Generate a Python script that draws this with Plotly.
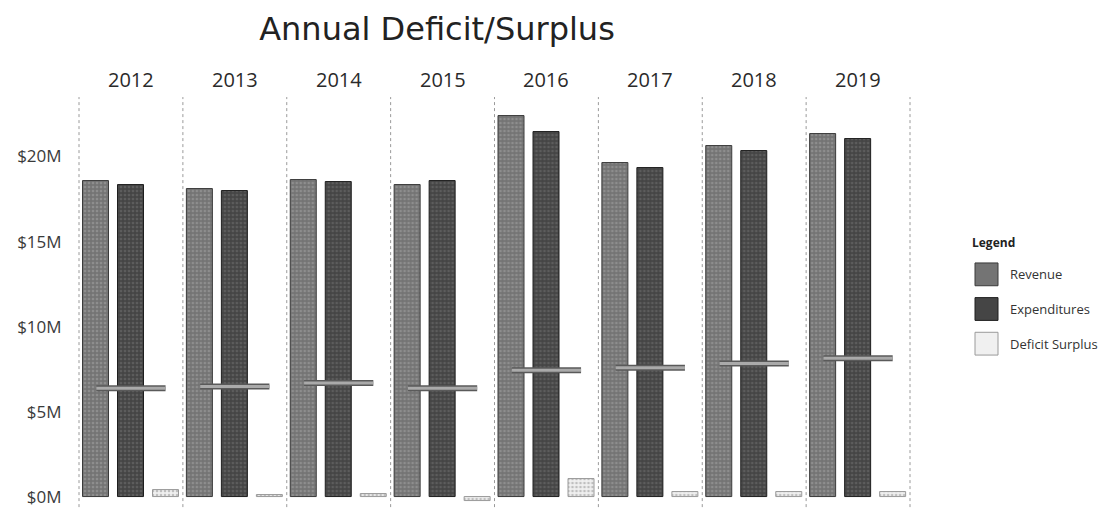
import plotly.graph_objects as go
from plotly.subplots import make_subplots

years = ["2012", "2013", "2014", "2015", "2016", "2017", "2018", "2019"]
measures = ["Revenue", "Expenditures", "Deficit Surplus"]
revenue = [18.55, 18.1, 18.6, 18.3, 22.4, 19.6, 20.6, 21.3]
expenditures = [18.3, 18.0, 18.5, 18.55, 21.45, 19.35, 20.3, 21.0]
deficit_surplus = [0.4, 0.1, 0.2, -0.2, 1.05, 0.3, 0.3, 0.3]
reference = [6.4, 6.5, 6.7, 6.4, 7.45, 7.6, 7.85, 8.15]
tick_vals = [0, 5, 10, 15, 20]
tick_text = ["$0M", "$5M", "$10M", "$15M", "$20M"]

W, H = 1111, 522
left, right = 79, 910
top, bottom = 98, 508
n = len(years)

fig = make_subplots(rows=1, cols=n, shared_yaxes=True, horizontal_spacing=0)

styles = {
    "Revenue": dict(bg="#747474", fg="#a8a8a8", line="#3a3a3a"),
    "Expenditures": dict(bg="#454545", fg="#767676", line="#1e1e1e"),
    "Deficit Surplus": dict(bg="#f0f0f0", fg="#8c8c8c", line="#9a9a9a"),
}

for i, yr in enumerate(years):
    vals = {"Revenue": revenue[i], "Expenditures": expenditures[i],
            "Deficit Surplus": deficit_surplus[i]}
    for m in measures:
        st = styles[m]
        fig.add_trace(go.Bar(
            x=[m], y=[vals[m]], name=m, legendgroup=m, showlegend=False,
            width=0.75,
            marker=dict(color=st["bg"], line=dict(color=st["line"], width=1),
                        pattern=dict(shape=".", size=4, solidity=0.35,
                                     fgcolor=st["fg"], bgcolor=st["bg"])),
        ), row=1, col=i + 1)
    fig.add_trace(go.Scatter(
        x=["Revenue", "Deficit Surplus"], y=[reference[i], reference[i]],
        mode="lines", line=dict(color="#5a5a5a", width=6), showlegend=False,
        hoverinfo="skip"), row=1, col=i + 1)
    fig.add_trace(go.Scatter(
        x=["Revenue", "Deficit Surplus"], y=[reference[i], reference[i]],
        mode="lines", line=dict(color="#aaaaaa", width=3), showlegend=False,
        hoverinfo="skip"), row=1, col=i + 1)

pw = (right - left) / n
ydom = [1 - bottom / H, 1 - top / H]
zero_px = 502
ppm = 17.2
yrange = [-(bottom - zero_px) / ppm, (zero_px - top) / ppm]

for i in range(n):
    x0 = (left + i * pw) / W
    x1 = (left + (i + 1) * pw) / W
    xa = "xaxis" if i == 0 else f"xaxis{i+1}"
    ya = "yaxis" if i == 0 else f"yaxis{i+1}"
    fig.layout[xa].update(domain=[x0, x1], range=[-0.5, 2.5],
                          categoryorder="array", categoryarray=measures,
                          showticklabels=False, showgrid=False, zeroline=False,
                          showline=False, ticks="")
    fig.layout[ya].update(domain=ydom, range=yrange, showgrid=False,
                          zeroline=False, showline=False)
    xref = "x" if i == 0 else f"x{i+1}"
    fig.add_annotation(text=years[i], xref=f"{xref} domain", yref="paper",
                       x=0.5, y=1 - 80 / H, showarrow=False, yanchor="middle",
                       font=dict(family="Open Sans", size=20, color="#2a2a2a"))
    fig.add_shape(type="line", xref=f"{xref} domain", yref="paper",
                  x0=0, x1=0, y0=1 - 512 / H, y1=1 - top / H,
                  line=dict(color="#9a9a9a", width=1, dash="dot"))
    if i == n - 1:
        fig.add_shape(type="line", xref=f"{xref} domain", yref="paper",
                      x0=1, x1=1, y0=1 - 512 / H, y1=1 - top / H,
                      line=dict(color="#9a9a9a", width=1, dash="dot"))

fig.layout.yaxis.update(tickmode="array", tickvals=tick_vals, ticktext=tick_text,
                        ticks="outside", ticklen=13, tickcolor="rgba(0,0,0,0)",
                        tickfont=dict(family="Open Sans", size=17, color="#3a3a3a"))

# custom legend (swatches + labels)
fig.add_annotation(text="<b>Legend</b>", xref="paper", yref="paper",
                   x=970 / W, y=1 - 245 / H, xanchor="left", yanchor="middle",
                   showarrow=False,
                   font=dict(family="Open Sans", size=12, color="#222222"))
leg_y = [277, 312, 347]
for m, yc in zip(measures, leg_y):
    st = styles[m]
    fig.add_shape(type="rect", xref="paper", yref="paper",
                  x0=975 / W, x1=998 / W, y0=1 - (yc + 11.5) / H, y1=1 - (yc - 11.5) / H,
                  fillcolor=st["bg"], line=dict(color=st["line"], width=1))
    fig.add_annotation(text=m, xref="paper", yref="paper",
                       x=1008 / W, y=1 - yc / H, xanchor="left", yanchor="middle",
                       showarrow=False,
                       font=dict(family="Open Sans", size=13, color="#333333"))

fig.update_layout(
    width=W, height=H, autosize=False,
    margin=dict(l=0, r=0, t=0, b=0),
    paper_bgcolor="white", plot_bgcolor="white",
    bargap=0, barmode="overlay",
    title=dict(text="Annual Deficit/Surplus", x=437 / W, xanchor="center",
               y=1 - 29 / H, yanchor="middle",
               font=dict(family="DejaVu Sans", size=32, color="#222222")),
    showlegend=False,
)

fig.write_html("out.html")
